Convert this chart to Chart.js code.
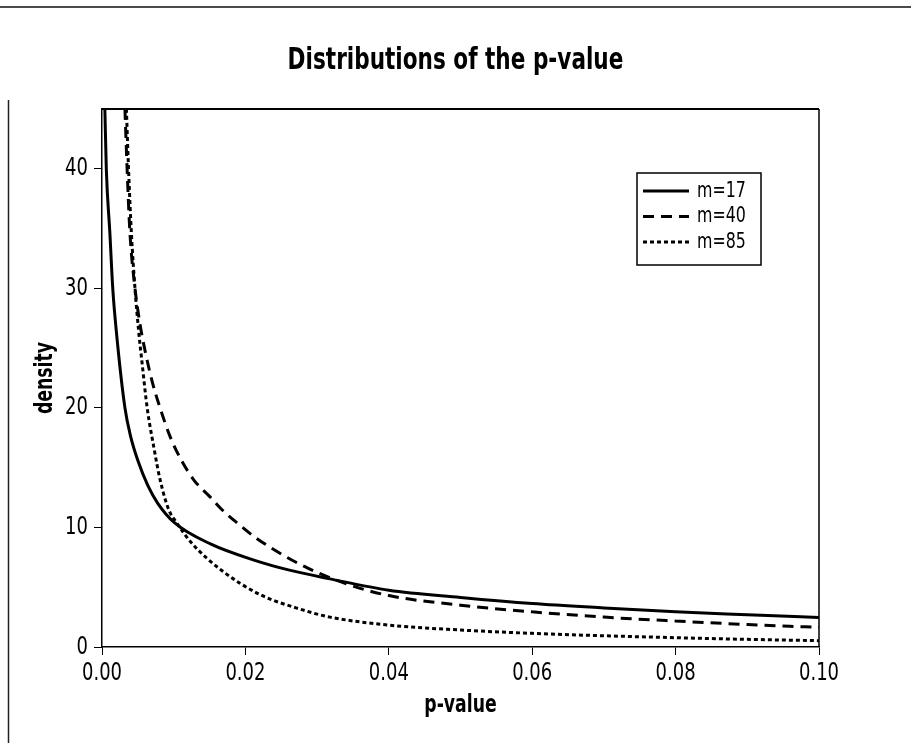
<!DOCTYPE html>
<html>
<head>
<meta charset="utf-8">
<script src="https://cdn.jsdelivr.net/npm/chart.js@4.4.1/dist/chart.umd.min.js"></script>
<style>
  html, body { margin: 0; padding: 0; background: #ffffff; }
  #wrap { width: 911px; height: 743px; position: relative; }
</style>
</head>
<body>
<div id="wrap"><canvas id="c" width="911" height="743"></canvas></div>
<script>
// ---- data ----
const seriesLabels = ["m=17", "m=40", "m=85"];

const m17X = [0.0004, 0.0006, 0.0011, 0.0015, 0.0020, 0.0032, 0.0040, 0.0050, 0.0064, 0.0078, 0.0101, 0.0152, 0.0213, 0.0260, 0.0318, 0.0400, 0.0500, 0.0600, 0.0700, 0.0800, 0.0900, 0.1000];
const m17Y = [45.0, 40.0, 34.6, 30.0, 26.4, 20.0, 17.6, 15.6, 13.5, 12.0, 10.4, 8.6, 7.25, 6.45, 5.7, 4.75, 4.15, 3.64, 3.27, 2.94, 2.70, 2.47];

const m40X = [0.0032, 0.0035, 0.0039, 0.0046, 0.0053, 0.0060, 0.0070, 0.0081, 0.0095, 0.0110, 0.0129, 0.0150, 0.0167, 0.0190, 0.0213, 0.0255, 0.0287, 0.0340, 0.0400, 0.0500, 0.0600, 0.0700, 0.0800, 0.0900, 0.1000];
const m40Y = [45.0, 40.0, 34.6, 30.0, 27.0, 24.8, 22.2, 20.0, 17.6, 15.7, 13.9, 12.6, 11.5, 10.3, 9.2, 7.6, 6.6, 5.3, 4.3, 3.5, 2.94, 2.5, 2.17, 1.88, 1.64];

const m85X = [0.0034, 0.0037, 0.0041, 0.0046, 0.0051, 0.0056, 0.0063, 0.0072, 0.0081, 0.0093, 0.0104, 0.0125, 0.0167, 0.0220, 0.0280, 0.0318, 0.0400, 0.0500, 0.0600, 0.0700, 0.0800, 0.0900, 0.1000];
const m85Y = [45.0, 40.0, 34.6, 30.0, 26.5, 23.7, 20.0, 16.8, 14.0, 11.5, 10.4, 8.7, 6.4, 4.4, 3.1, 2.5, 1.83, 1.42, 1.14, 0.94, 0.78, 0.64, 0.53];

const xTicks = [0.00, 0.02, 0.04, 0.06, 0.08, 0.10];
const yTicks = [0, 10, 20, 30, 40];

const titleText = "Distributions of the p-value";
const xTitle = "p-value";
const yTitle = "density";

// ---- build ----
function pts(xs, ys) { return xs.map((x, i) => ({ x: x, y: ys[i] })); }

const FONT = "'DejaVu Sans Condensed', 'Liberation Sans Narrow', 'DejaVu Sans', sans-serif";
const TEXT_SX = 0.8; // horizontal squeeze of all text (narrow face as in the reference)

const canvas = document.getElementById('c');
const ctx2d = canvas.getContext('2d');
const origFillText = ctx2d.fillText.bind(ctx2d);
ctx2d.fillText = function (text, x, y, maxWidth) {
  this.save();
  this.translate(x, y);
  this.scale(TEXT_SX, 1);
  if (maxWidth === undefined || maxWidth === null) origFillText(text, 0, 0);
  else origFillText(text, 0, 0, maxWidth / TEXT_SX);
  this.restore();
};

const styles = [
  { borderDash: [], borderWidth: 3 },
  { borderDash: [11, 7], borderWidth: 3 },
  { borderDash: [4, 3], borderWidth: 3 }
];

const datasets = [pts(m17X, m17Y), pts(m40X, m40Y), pts(m85X, m85Y)].map((d, i) => ({
  label: seriesLabels[i],
  data: d,
  showLine: true,
  borderColor: '#000000',
  backgroundColor: '#000000',
  borderWidth: styles[i].borderWidth,
  borderDash: styles[i].borderDash,
  pointRadius: 0,
  cubicInterpolationMode: 'monotone',
  fill: false
}));

const framePlugin = {
  id: 'frame',
  beforeDraw(chart) {
    const ctx = chart.ctx;
    ctx.save();
    ctx.fillStyle = '#ffffff';
    ctx.fillRect(0, 0, chart.width, chart.height);
    ctx.strokeStyle = '#4a4a4a';
    ctx.lineWidth = 2;
    ctx.beginPath(); ctx.moveTo(0, 7); ctx.lineTo(chart.width, 7); ctx.stroke();
    ctx.strokeStyle = '#222222';
    ctx.lineWidth = 1.5;
    ctx.beginPath(); ctx.moveTo(8.5, 100); ctx.lineTo(8.5, chart.height); ctx.stroke();
    ctx.restore();
  },
  afterDraw(chart) {
    const a = chart.chartArea;
    const ctx = chart.ctx;
    ctx.save();
    ctx.strokeStyle = '#000000';
    ctx.lineWidth = 2;
    ctx.beginPath(); ctx.moveTo(a.left, a.top); ctx.lineTo(a.right, a.top); ctx.stroke();
    ctx.lineWidth = 1.5;
    ctx.beginPath(); ctx.moveTo(a.right, a.top); ctx.lineTo(a.right, a.bottom); ctx.stroke();
    // legend box
    const bx = a.left + 535, by = a.top + 64, bw = 124, bh = 92;
    ctx.fillStyle = '#ffffff';
    ctx.fillRect(bx, by, bw, bh);
    ctx.lineWidth = 1.5;
    ctx.strokeRect(bx, by, bw, bh);
    chart.data.datasets.forEach((ds, i) => {
      const y = by + 18 + i * 25.5;
      ctx.save();
      ctx.lineWidth = ds.borderWidth;
      ctx.setLineDash(ds.borderDash || []);
      ctx.beginPath(); ctx.moveTo(bx + 6, y); ctx.lineTo(bx + 52, y); ctx.stroke();
      ctx.restore();
      ctx.fillStyle = '#000000';
      ctx.font = "22px " + FONT;
      ctx.textBaseline = 'middle';
      ctx.textAlign = 'left';
      ctx.fillText(ds.label, bx + 60, y);
    });
    ctx.restore();
  }
};

new Chart(canvas, {
  type: 'scatter',
  data: { datasets: datasets },
  plugins: [framePlugin],
  options: {
    responsive: false,
    animation: false,
    devicePixelRatio: 1,
    layout: { padding: 0 },
    plugins: {
      legend: { display: false },
      tooltip: { enabled: false },
      title: {
        display: true,
        text: titleText,
        color: '#000000',
        font: { family: FONT, size: 30, weight: 'bold', lineHeight: 1.2 },
        padding: { top: 43, bottom: 30 }
      }
    },
    scales: {
      x: {
        type: 'linear',
        min: 0, max: 0.1,
        afterFit(s) { s.height = 96; },
        afterBuildTicks(s) { s.ticks = xTicks.map(v => ({ value: v })); },
        ticks: {
          color: '#000000',
          font: { family: FONT, size: 25 },
          padding: 3,
          maxRotation: 0,
          callback: v => Number(v).toFixed(2)
        },
        grid: { drawOnChartArea: false, drawTicks: true, tickLength: 8, color: '#000000', lineWidth: 1 },
        border: { display: true, color: '#000000', width: 1.5 },
        title: {
          display: true, text: xTitle, color: '#000000',
          font: { family: FONT, size: 24, weight: 'bold', lineHeight: 1.2 },
          padding: { top: 0, bottom: 23 }
        }
      },
      y: {
        type: 'linear',
        min: 0, max: 45,
        afterFit(s) { s.width = 102; },
        afterBuildTicks(s) { s.ticks = yTicks.map(v => ({ value: v })); },
        ticks: {
          color: '#000000',
          font: { family: FONT, size: 25 },
          padding: 6
        },
        grid: { drawOnChartArea: false, drawTicks: true, tickLength: 8, color: '#000000', lineWidth: 1 },
        border: { display: true, color: '#000000', width: 1.5 },
        title: {
          display: true, text: yTitle, color: '#000000',
          font: { family: FONT, size: 24, weight: 'bold', lineHeight: 1.2 },
          padding: { top: 31, bottom: 0 }
        }
      },
      yRight: {
        type: 'linear',
        position: 'right',
        min: 0, max: 45,
        afterFit(s) { s.width = 92; },
        ticks: { display: false },
        grid: { display: false, drawTicks: false },
        border: { display: false }
      }
    }
  }
});
</script>
</body>
</html>
